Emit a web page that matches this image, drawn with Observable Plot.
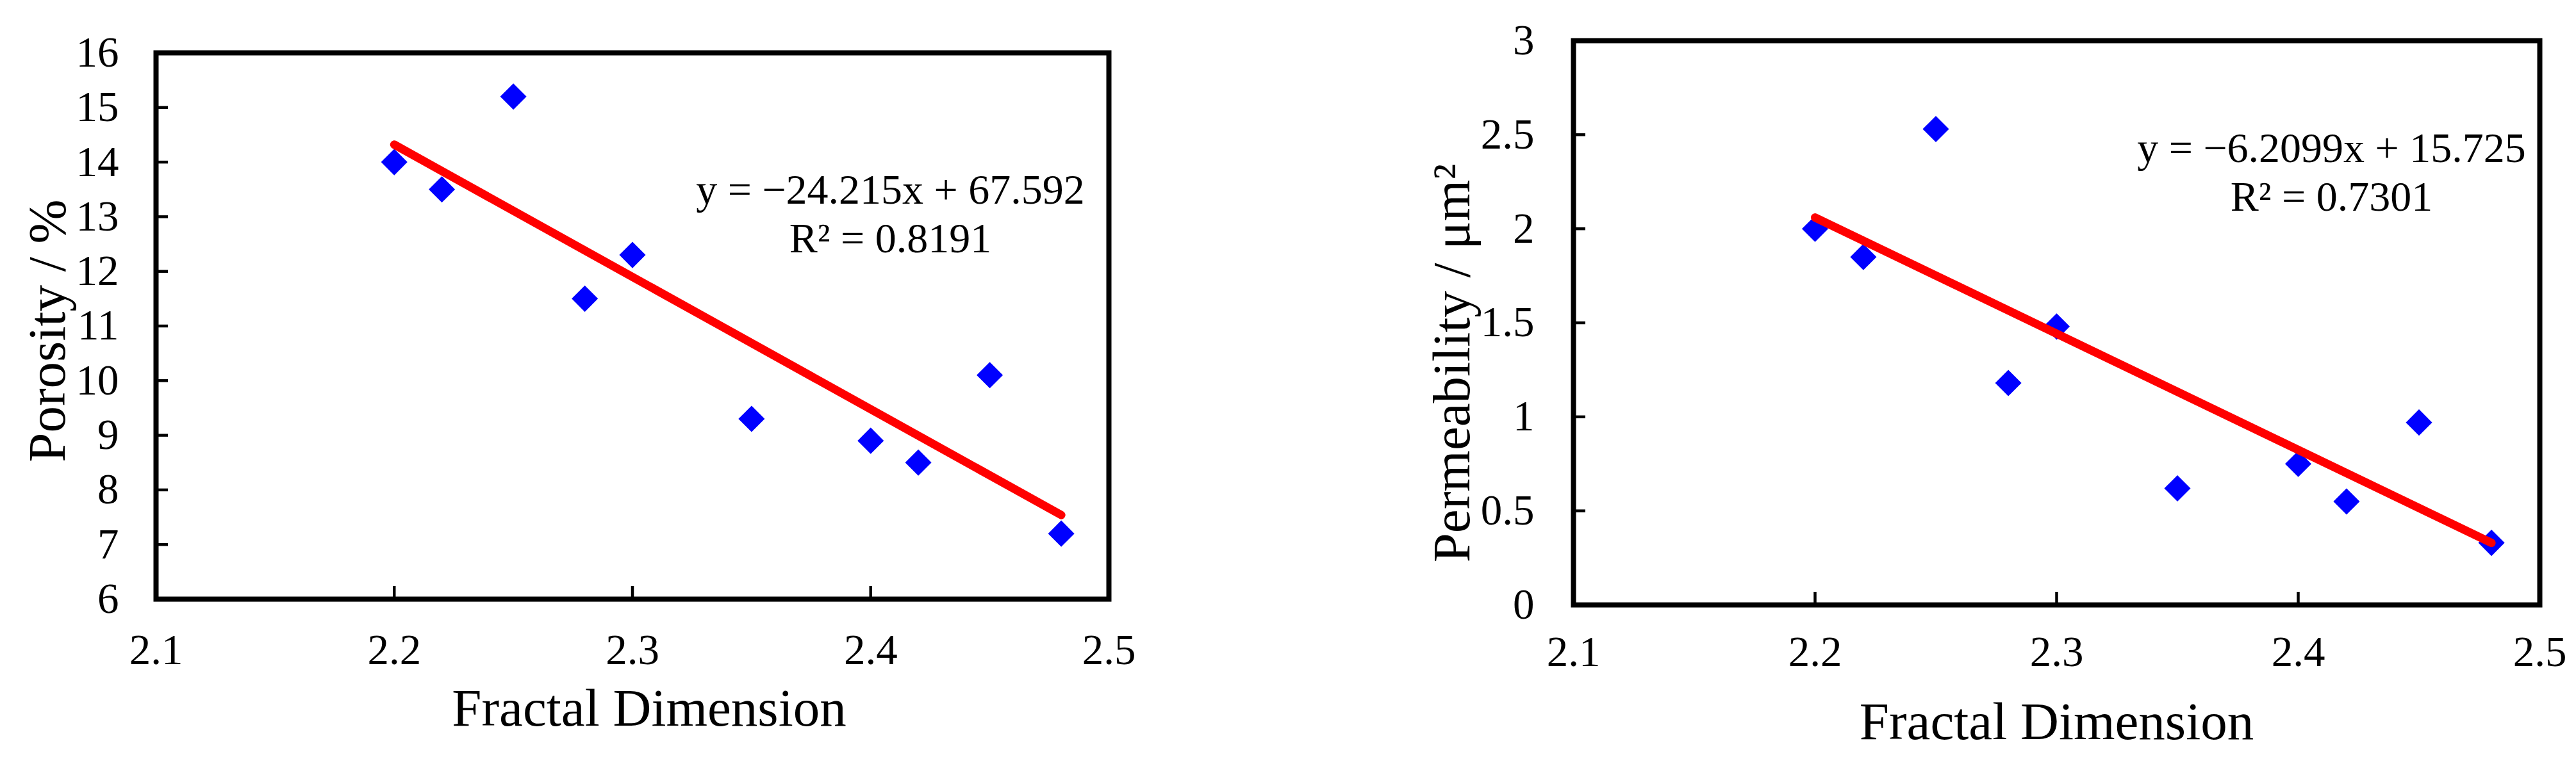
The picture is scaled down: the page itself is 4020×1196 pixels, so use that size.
<!DOCTYPE html>
<html><head><meta charset="utf-8">
<script src="https://cdn.jsdelivr.net/npm/d3@7"></script>
<script src="https://cdn.jsdelivr.net/npm/@observablehq/plot@0.6"></script>
<style>
body{margin:0;background:#fff;}
#wrap{position:relative;width:4020px;height:1196px;background:#fff;}
#left{position:absolute;left:0;top:0;}
#right{position:absolute;left:2000px;top:0;}
</style></head><body><div id="wrap"><div id="left"></div><div id="right"></div></div>
<script>
// ---- data ----
const fractalDim   = [2.20, 2.22, 2.25, 2.28, 2.30, 2.35, 2.40, 2.42, 2.45, 2.48];
const porosity     = [14.0, 13.5, 15.2, 11.5, 12.3, 9.3, 8.9, 8.5, 10.1, 7.2];
const permeability = [2.00, 1.85, 2.53, 1.18, 1.48, 0.62, 0.75, 0.55, 0.97, 0.33];
const trendX = [2.20, 2.48];
const porosityTrend = [14.32, 7.54];
const permeabilityTrend = [2.06, 0.33];
const xTicks = [2.1, 2.2, 2.3, 2.4, 2.5];
const porosityTicks = [6, 7, 8, 9, 10, 11, 12, 13, 14, 15, 16];
const permeabilityTicks = [0, 0.5, 1, 1.5, 2, 2.5, 3];
const xLabel = "Fractal Dimension";
const porosityLabel = "Porosity / %";
const permeabilityLabel = "Permeability / μm²";
const porosityEq = ["y = −24.215x + 67.592", "R² = 0.8191"];
const permeabilityEq = ["y = −6.2099x + 15.725", "R² = 0.7301"];

const FONT = "'Liberation Serif', 'Times New Roman', serif";

function chart(cfg) {
  const fw = cfg.width - cfg.ml - cfg.mr;
  const fh = cfg.height - cfg.mt - cfg.mb;
  const pts = fractalDim.map((x, i) => ({x, y: cfg.values[i]}));
  const trend = trendX.map((x, i) => ({x, y: cfg.trend[i]}));
  const yDom = [cfg.yTicks[0], cfg.yTicks[cfg.yTicks.length - 1]];
  const xDom = [xTicks[0], xTicks[xTicks.length - 1]];
  const innerY = cfg.yTicks.slice(1, -1);
  const innerX = xTicks.slice(1, -1);
  return Plot.plot({
    width: cfg.width, height: cfg.height,
    marginLeft: cfg.ml, marginRight: cfg.mr, marginTop: cfg.mt, marginBottom: cfg.mb,
    style: {fontFamily: FONT, color: "black", background: "white", overflow: "visible"},
    x: {domain: xDom, axis: null},
    y: {domain: yDom, axis: null},
    marks: [
      Plot.tickY(innerY, {y: d => d, stroke: "black", strokeWidth: 4.5, insetRight: fw - 19}),
      Plot.tickX(innerX, {x: d => d, stroke: "black", strokeWidth: 4.5, insetTop: fh - 20}),
      Plot.frame({stroke: "black", strokeWidth: 8}),
      Plot.axisY(cfg.yTicks, {tickSize: 0, tickPadding: cfg.yPad, fontSize: 67, label: null, tickFormat: d => String(d)}),
      Plot.axisX(xTicks, {tickSize: 0, tickPadding: cfg.xPad, fontSize: 67, label: null, tickFormat: d => String(d)}),
      Plot.dot(pts, {x: "x", y: "y", symbol: "diamond2", r: 18.5, fill: "#0000FF", stroke: "none"}),
      Plot.line(trend, {x: "x", y: "y", stroke: "#FF0000", strokeWidth: 13, strokeLinecap: "round"}),
      Plot.text([cfg.eq[0]], {text: d => d, frameAnchor: "top-right", textAnchor: "middle", lineAnchor: "bottom", dx: cfg.eqDx, dy: cfg.eqDy1, fontSize: 66, fill: "black"}),
      Plot.text([cfg.eq[1]], {text: d => d, frameAnchor: "top-right", textAnchor: "middle", lineAnchor: "bottom", dx: cfg.eqDx, dy: cfg.eqDy2, fontSize: 66, fill: "black"}),
      Plot.text([cfg.yLabel], {text: d => d, frameAnchor: "left", rotate: -90, textAnchor: "middle", lineAnchor: "bottom", dx: cfg.ylDx, dy: cfg.ylDy, fontSize: 83, fill: "black"}),
      Plot.text([xLabel], {text: d => d, frameAnchor: "bottom", textAnchor: "middle", lineAnchor: "bottom", dx: cfg.xlDx, dy: cfg.xlDy, fontSize: 83, fill: "black"})
    ]
  });
}

document.getElementById("left").appendChild(chart({
  width: 2000, height: 1196, ml: 243, mr: 270, mt: 82, mb: 261,
  values: porosity, trend: porosityTrend, yTicks: porosityTicks,
  yPad: 58, xPad: 54,
  eq: porosityEq, eqDx: -341, eqDy1: 235, eqDy2: 311,
  yLabel: porosityLabel, ylDx: -143, ylDy: 7.5,
  xlDx: 26, xlDy: 197
}));

document.getElementById("right").appendChild(chart({
  width: 2020, height: 1196, ml: 455, mr: 57, mt: 63, mb: 252,
  values: permeability, trend: permeabilityTrend, yTicks: permeabilityTicks,
  yPad: 61, xPad: 48,
  eq: permeabilityEq, eqDx: -325, eqDy1: 189, eqDy2: 265,
  yLabel: permeabilityLabel, ylDx: -163, ylDy: 63,
  xlDx: 0, xlDy: 209
}));
</script>
</body></html>
